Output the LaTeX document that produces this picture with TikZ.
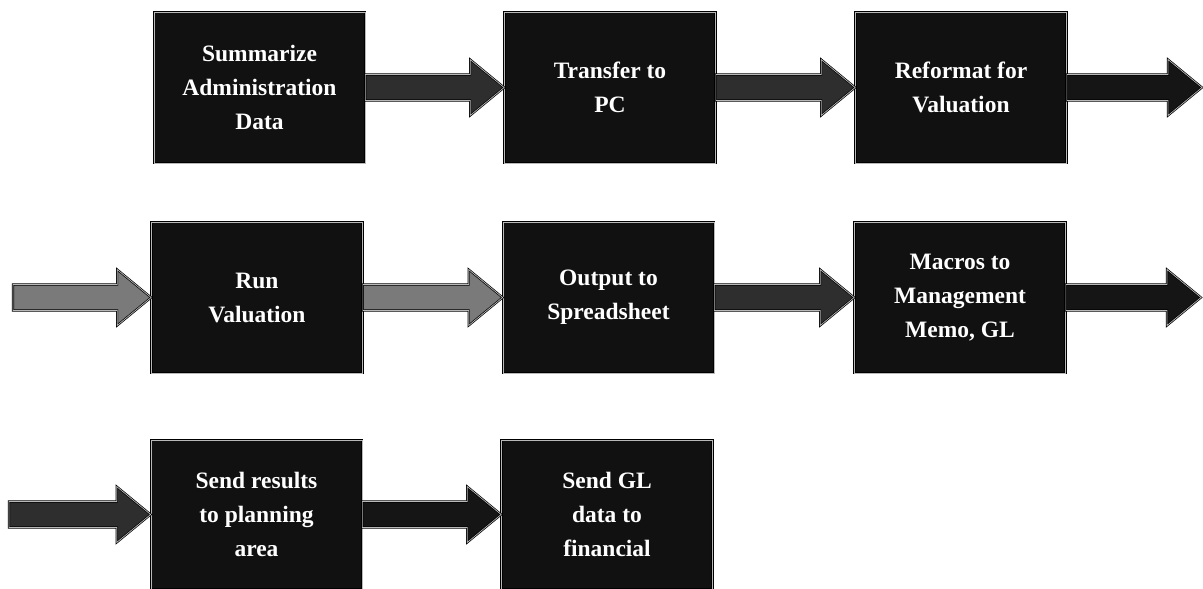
\documentclass[tikz,border=0pt]{standalone}
\usepackage{fontspec}
\setmainfont{Liberation Serif}
\usetikzlibrary{calc}

\definecolor{boxfill}{HTML}{111111}
\definecolor{arrowdark}{HTML}{2E2E2E}
\definecolor{arrowblack}{HTML}{151515}
\definecolor{arrowgray}{HTML}{7A7A7A}

\tikzset{
  stepbox/.style={draw=black, line width=0.7pt, double=gray!55, double distance=0.7pt,
    fill=boxfill, text=white, align=center, inner sep=0pt,
    minimum width=211pt, minimum height=151pt,
    font=\bfseries\fontsize{23.5}{34}\selectfont},
  blockarrow/.style={draw=black, line width=0.7pt, double=gray!55, double distance=0.7pt,
    line join=miter},
}

% block arrow from the point #1 to the point #2, filled with #3
\newcommand{\blockarr}[3]{%
  \path[blockarrow, fill=#3]
    let \p1=(#1), \p2=(#2) in
    (\x1,\y1+13pt) -- (\x2-34pt,\y1+13pt) -- (\x2-34pt,\y1+28pt) -- (\x2,\y1)
    -- (\x2-34pt,\y1-28pt) -- (\x2-34pt,\y1-13pt) -- (\x1,\y1-13pt) -- cycle;}

\begin{document}
\begin{tikzpicture}[x=1pt,y=-1pt]
  \useasboundingbox[fill=white] (0,0) rectangle (1203,589);

  % first row
  \node[stepbox] (sum) at (259.5,87.5) {Summarize\\Administration\\Data};
  \node[stepbox] (pc)  at (610,87.5)   {Transfer to\\PC};
  \node[stepbox] (ref) at (961,87.5)   {Reformat for\\Valuation};
  \coordinate (r1end) at (1202,87.5);

  % second row
  \coordinate (r2start) at (13,297.5);
  \node[stepbox] (run) at (257,297.5)   {Run\\Valuation};
  \node[stepbox] (out) at (608.5,297.5) {Output to\\Spreadsheet};
  \node[stepbox] (mac) at (960,297.5)   {Macros to\\Management\\Memo, GL};
  \coordinate (r2end) at (1201,297.5);

  % third row
  \coordinate (r3start) at (9,514.5);
  \node[stepbox, minimum height=149pt] (plan) at (256.5,514.5) {Send results\\to planning\\area};
  \node[stepbox, minimum height=149pt] (fin)  at (607,514.5)   {Send GL\\data to\\financial};

  % connectors
  \blockarr{sum.east}{pc.west}{arrowdark}
  \blockarr{pc.east}{ref.west}{arrowdark}
  \blockarr{ref.east}{r1end}{arrowblack}

  \blockarr{r2start}{run.west}{arrowgray}
  \blockarr{run.east}{out.west}{arrowgray}
  \blockarr{out.east}{mac.west}{arrowdark}
  \blockarr{mac.east}{r2end}{arrowblack}

  \blockarr{r3start}{plan.west}{arrowdark}
  \blockarr{plan.east}{fin.west}{arrowblack}
\end{tikzpicture}
\end{document}
